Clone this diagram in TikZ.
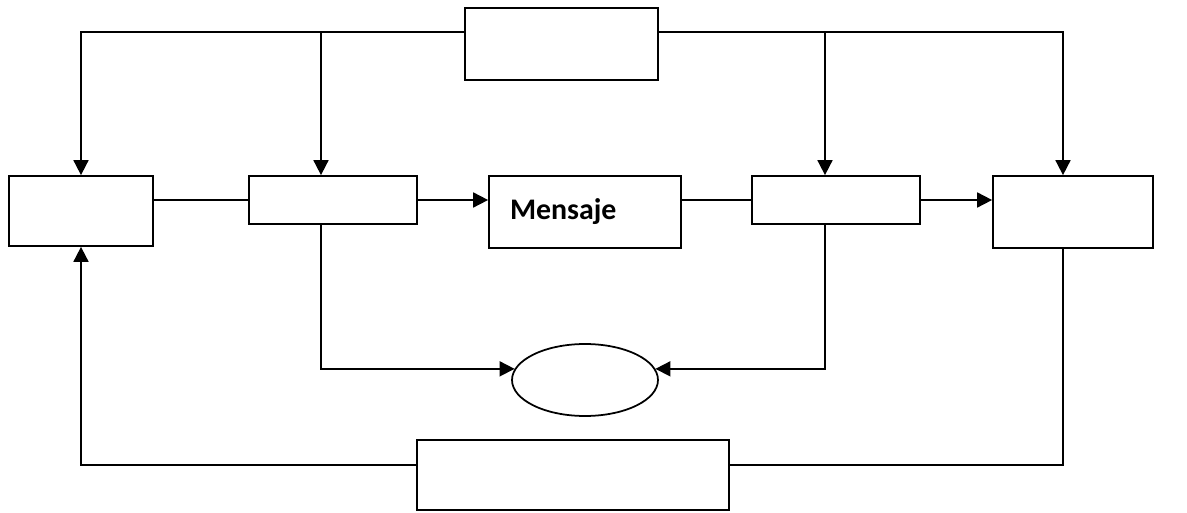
\documentclass[tikz,border=0pt]{standalone}
\usepackage{fontspec}
\setmainfont{Carlito}
\usetikzlibrary{shapes.geometric,arrows.meta}

\begin{document}
\begin{tikzpicture}[x=0.02cm,y=-0.02cm,line width=1pt,
    caja/.style={draw,rectangle,inner sep=0pt},
    arr/.style={-{Triangle[length=0.3cm,width=0.3cm]}}]
\useasboundingbox (0,0) rectangle (1187,513);

% Boxes
\node[caja,minimum width=3.86cm,minimum height=1.44cm] (T) at (561.5,44){};
\node[caja,minimum width=2.88cm,minimum height=1.40cm] (A) at (81,211){};
\node[caja,minimum width=3.36cm,minimum height=0.96cm] (B) at (333,200){};
\node[caja,minimum height=1.44cm,text width=3.0cm,inner xsep=0.42cm,align=left,
      font=\bfseries\fontsize{17}{20}\selectfont] (M) at (585,212){Mensaje};
\node[caja,minimum width=3.36cm,minimum height=0.96cm] (D) at (836,200){};
\node[caja,minimum width=3.20cm,minimum height=1.44cm] (E) at (1073,212){};
\node[draw,ellipse,inner sep=0pt,minimum width=2.92cm,minimum height=1.44cm] (C) at (585,380){};
\node[caja,minimum width=6.24cm,minimum height=1.40cm] (F) at (573,475){};

% Junctions
\path ([yshift=0.24cm]T.west) coordinate (tw)
      ([yshift=0.24cm]T.east) coordinate (te);
\coordinate (bx) at (321,200);
\coordinate (dx) at (825,200);

% Top feed
\draw[arr] (tw) -| (A.north);
\draw[arr] (tw -| bx) -- (B.north -| bx);
\draw[arr] (te) -| ([xshift=-0.2cm]E.north);
\draw[arr] (te -| dx) -- (D.north -| dx);

% Main chain
\draw (A.east |- B.west) -- (B.west);
\draw[arr] (B.east) -- (B.east -| M.west);
\draw (M.east |- D.west) -- (D.west);
\draw[arr] (D.east) -- (D.east -| E.west);

% To ellipse
\draw[arr] (B.south -| bx) |- (C.171);
\draw[arr] (D.south -| dx) |- (C.9);

% Return path
\draw[arr] ([yshift=0.2cm]F.west) -| (A.south);
\draw ([yshift=0.2cm]F.east) -| ([xshift=-0.2cm]E.south);

\end{tikzpicture}
\end{document}
